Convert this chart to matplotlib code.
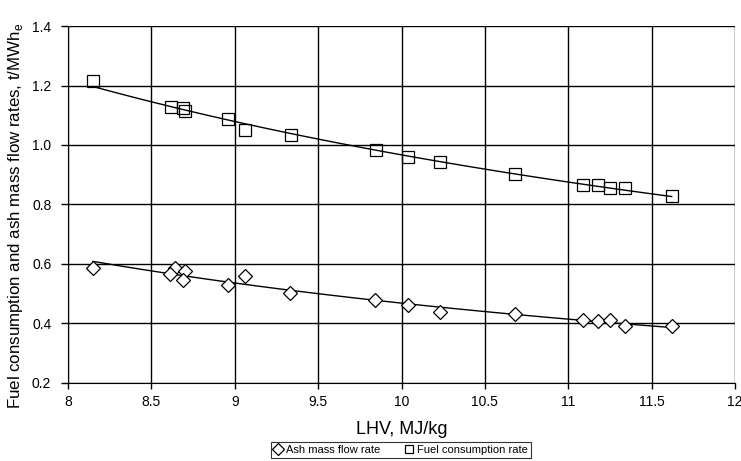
import numpy as np
import matplotlib
matplotlib.use("Agg")
import matplotlib.pyplot as plt

plt.rcParams['font.family'] = ['Liberation Sans', 'DejaVu Sans']

# LHV, MJ/kg
fuel_lhv = [8.15, 8.62, 8.69, 8.70, 8.96, 9.06, 9.34, 9.85, 10.04, 10.23,
            10.68, 11.09, 11.18, 11.25, 11.34, 11.62]
fuel_rate = [1.214, 1.127, 1.125, 1.113, 1.088, 1.052, 1.035, 0.982, 0.958, 0.944,
             0.902, 0.866, 0.865, 0.855, 0.855, 0.827]

ash_lhv = [8.15, 8.64, 8.61, 8.70, 8.69, 8.96, 9.06, 9.33, 9.84, 10.04,
           10.23, 10.68, 11.09, 11.18, 11.25, 11.34, 11.62]
ash_rate = [0.588, 0.588, 0.567, 0.578, 0.545, 0.530, 0.560, 0.504, 0.478, 0.461,
            0.440, 0.432, 0.412, 0.407, 0.412, 0.390, 0.390]


def power_fit(x, y):
    b, a = np.polyfit(np.log(x), np.log(y), 1)
    xs = np.linspace(min(x), max(x), 100)
    return xs, np.exp(a) * xs ** b


fig = plt.figure(figsize=(7.41, 4.61), dpi=100)
ax = fig.add_axes([0.0918, 0.1692, 0.9001, 0.7744])

xs, ys = power_fit(ash_lhv, ash_rate)
ax.plot(xs, ys, color='black', lw=1, zorder=3)
xs, ys = power_fit(fuel_lhv, fuel_rate)
ax.plot(xs, ys, color='black', lw=1, zorder=3)

ax.plot(ash_lhv, ash_rate, 'D', ms=7.5, mfc='white', mec='black', mew=0.9,
        ls='none', label='Ash mass flow rate', zorder=4)
ax.plot(fuel_lhv, fuel_rate, 's', ms=8.5, mfc='none', mec='black', mew=0.9,
        ls='none', label='Fuel consumption rate', zorder=4)

ax.set_xlim(8, 12)
ax.set_ylim(0.2, 1.4)
ax.set_xticks(np.arange(8, 12.01, 0.5))
ax.set_xticklabels(['8', '8.5', '9', '9.5', '10', '10.5', '11', '11.5', '12'])
ax.set_yticks(np.arange(0.2, 1.41, 0.2))
ax.set_yticklabels(['0.2', '0.4', '0.6', '0.8', '1.0', '1.2', '1.4'])
ax.grid(True, color='black', lw=1)
ax.set_axisbelow(True)
for s in ['top', 'right']:
    ax.spines[s].set_visible(False)
ax.tick_params(axis='x', labelsize=10, direction='out', length=4, width=1, pad=5)
ax.tick_params(axis='y', labelsize=10, direction='out', length=5, width=1, pad=7)

ax.set_xlabel('LHV, MJ/kg', fontsize=13)
ax.xaxis.set_label_coords(0.5, -0.106)
ax.set_ylabel('Fuel consumption and ash mass flow rates, t/MWh$_\\mathregular{e}$',
              fontsize=12.2)
ax.yaxis.set_label_coords(-0.064, 0.468)

leg = fig.legend(loc='upper center', bbox_to_anchor=(0.541, 0.054), ncol=2,
                 fontsize=8, frameon=True, fancybox=False, edgecolor='black',
                 markerscale=0.75, handlelength=0.8, handletextpad=0.3,
                 columnspacing=2.2, borderpad=0.3)
leg.get_frame().set_linewidth(0.8)

fig.savefig('out.png', dpi=100)
